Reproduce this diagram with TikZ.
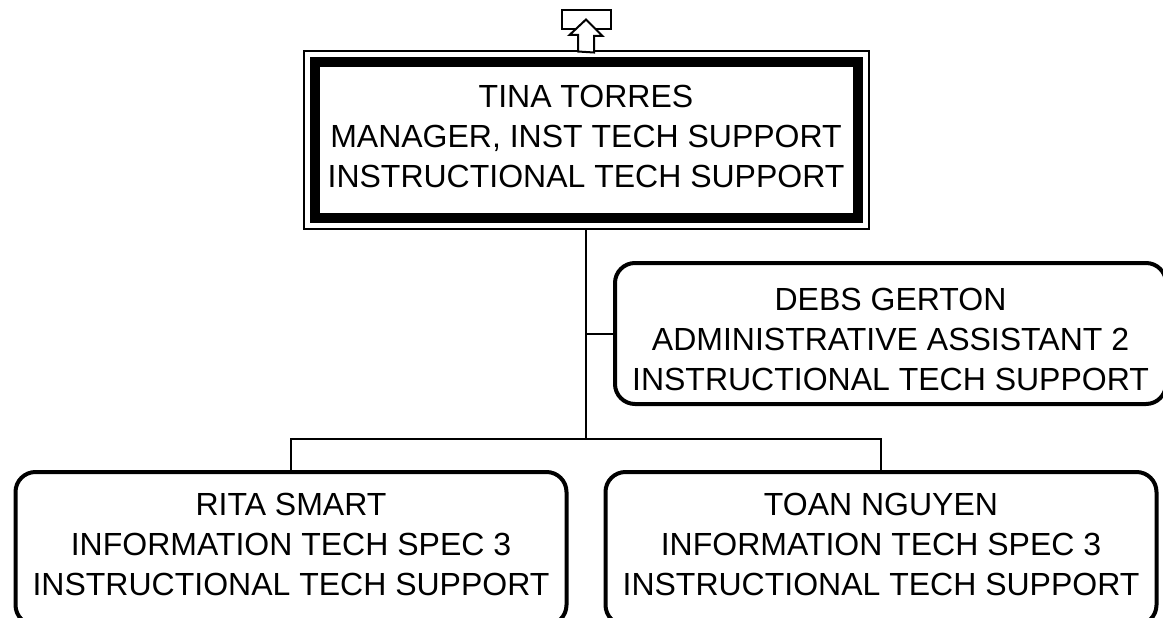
\documentclass[tikz,border=0pt]{standalone}
\usepackage{fontspec}
\setmainfont{Liberation Sans}
\usetikzlibrary{positioning}

\tikzset{
  person/.style={draw,line width=4pt,rounded corners=20pt,outer sep=0pt,inner sep=0pt,
    minimum width=551pt,minimum height=#1},
  person/.default=141pt,
  txt/.style={align=center,inner sep=0pt,font=\fontsize{32}{40}\selectfont},
  link/.style={line width=2pt}
}

\begin{document}
\begin{tikzpicture}[x=1pt,y=-1pt]
\useasboundingbox (0,0) rectangle (1163,618);
\clip (0,0) rectangle (1163,618);
% manager
\node at(586,140)[draw,line width=2pt,outer sep=0pt,minimum width=565pt,minimum height=177pt](tina){};
\draw[line width=10pt] ([shift={(11pt,-11pt)}]tina.north west) rectangle ([shift={(-11pt,11pt)}]tina.south east);
\node at([yshift=4pt]tina.center)[txt](tina-txt){TINA TORRES\\MANAGER, INST TECH SUPPORT\\INSTRUCTIONAL TECH SUPPORT};
% link upwards
\node at(586,19.5)[draw,line width=2pt,outer sep=0pt,minimum width=49pt,minimum height=19pt](up){};
\draw[link,fill=white] (tina.north) ++(-8,0) -- ++(0,-16.5) -- ++(-8.5,0) -- (up.center)
  -- ++(16.5,16.5) -- ++(-8.5,0) -- ++(0,16.5) -- cycle;
% assistant
\coordinate (bus) at (tina.south |- 0,439);
\draw[link] (tina.south) -- (bus);
\node at(890.5,333.5)[person](debs){};
\node at([yshift=-6pt]debs.center)[txt](debs-txt){DEBS GERTON\\ADMINISTRATIVE ASSISTANT 2\\INSTRUCTIONAL TECH SUPPORT};
\draw[link] (debs.west) -- (debs.west -| tina.south);
% staff
\foreach \nm/\who/\dx in {rita/RITA SMART/-295,toan/TOAN NGUYEN/295}{
  \node at([shift={(\dx,109.5)}]bus)[person=153pt](\nm){};
  \node at([yshift=4pt]\nm.center)[txt](\nm-txt){\who\\INFORMATION TECH SPEC 3\\INSTRUCTIONAL TECH SUPPORT};
}
\draw[link] (rita.north) -- ++(0,-33) -| (toan.north);
\end{tikzpicture}
\end{document}
